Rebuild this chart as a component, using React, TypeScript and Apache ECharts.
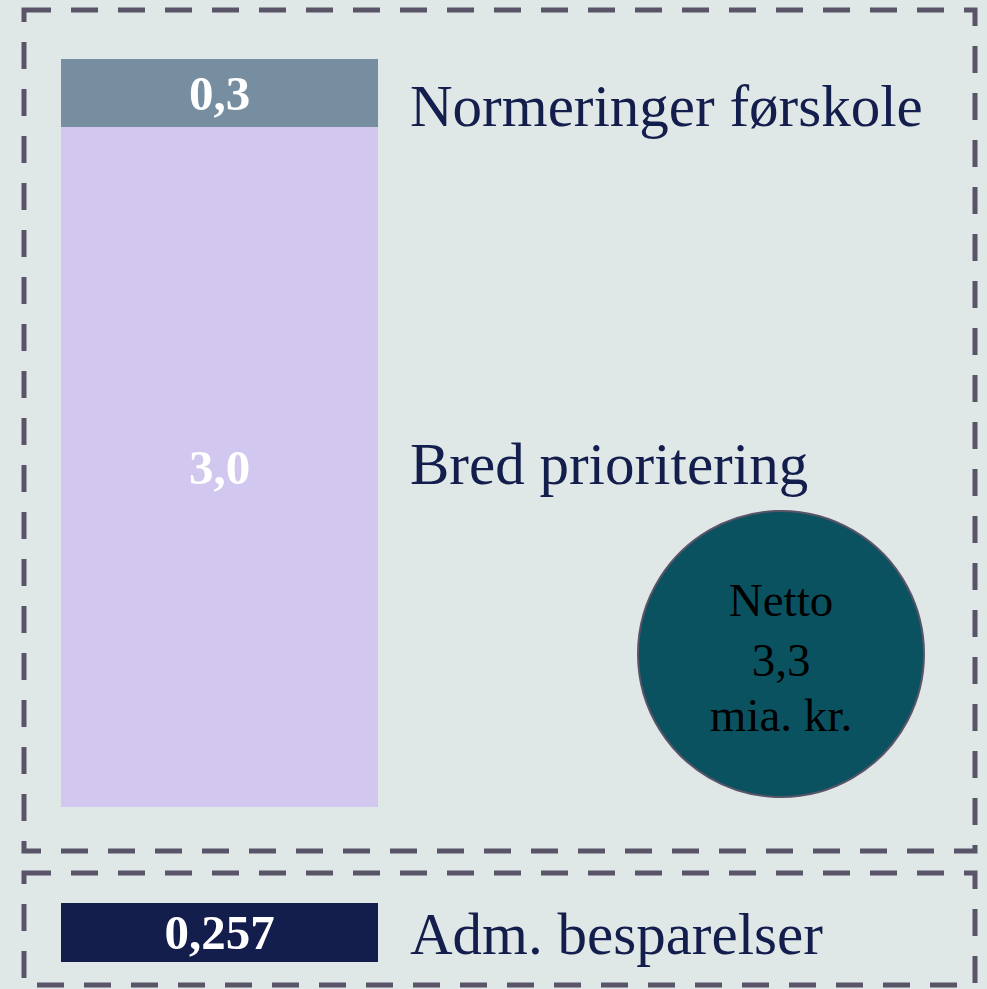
import React, { useEffect, useRef } from "react";
import * as echarts from "echarts";

const stackCategories = ["Total"];
const bredValues = [3.0];
const normValues = [0.3];
const admCategories = ["Adm"];
const admValues = [0.257];
const nettoValue = 3.3;
const seriesNames = ["Bred prioritering", "Normeringer førskole", "Adm. besparelser"];

const fmt = (v: number) => v.toLocaleString("da-DK", { minimumFractionDigits: 1 });
const fmt3 = (v: number) => v.toLocaleString("da-DK", { minimumFractionDigits: 3 });

const FONT = "'Liberation Serif', 'DejaVu Serif', serif";
const BG = "#e0e7e7";
const NAVY = "#141e4d";
const DASH = "#5a5468";

export default function App() {
  const ref = useRef<HTMLDivElement>(null);
  useEffect(() => {
    if (!ref.current) return;
    const chart = echarts.init(ref.current, null, { renderer: "svg" });
    const valueLabel = {
      show: true,
      position: "inside",
      color: "#ffffff",
      fontFamily: FONT,
      fontWeight: "bold",
      fontSize: 49,
    };
    chart.setOption({
      animation: false,
      backgroundColor: BG,
      grid: [
        { left: 61, top: 59, width: 317, height: 748 },
        { left: 61, top: 903, width: 317, height: 59 },
      ],
      xAxis: [
        { type: "category", gridIndex: 0, data: stackCategories, show: false },
        { type: "category", gridIndex: 1, data: admCategories, show: false },
      ],
      yAxis: [
        { type: "value", gridIndex: 0, min: 0, max: 3.3, show: false },
        { type: "value", gridIndex: 1, min: 0, max: 0.257, show: false },
      ],
      series: [
        {
          name: seriesNames[0],
          type: "bar",
          stack: "a",
          xAxisIndex: 0,
          yAxisIndex: 0,
          barWidth: "100%",
          data: bredValues,
          itemStyle: { color: "#d1c7ef" },
          label: { ...valueLabel, formatter: (p: any) => fmt(p.value) },
        },
        {
          name: seriesNames[1],
          type: "bar",
          stack: "a",
          xAxisIndex: 0,
          yAxisIndex: 0,
          barWidth: "100%",
          data: normValues,
          itemStyle: { color: "#778da0" },
          label: { ...valueLabel, formatter: (p: any) => fmt(p.value) },
        },
        {
          name: seriesNames[2],
          type: "bar",
          xAxisIndex: 1,
          yAxisIndex: 1,
          barWidth: "100%",
          data: admValues,
          itemStyle: { color: NAVY },
          label: { ...valueLabel, formatter: (p: any) => fmt3(p.value) },
        },
      ],
    });

    const labelX = 410;
    const pNorm = chart.convertToPixel({ gridIndex: 0 } as any, [0, bredValues[0] + normValues[0] / 2]) as number[];
    const pBred = chart.convertToPixel({ gridIndex: 0 } as any, [0, bredValues[0] / 2]) as number[];
    const pAdm = chart.convertToPixel({ gridIndex: 1 } as any, [0, admValues[0] / 2]) as number[];
    const nameStyle = (text: string, size: number) => ({
      text,
      fill: NAVY,
      font: `${size}px ${FONT}`,
      verticalAlign: "middle",
      align: "left",
    });
    const dashStyle = { fill: "none", stroke: DASH, lineWidth: 5, lineDash: [27, 20] };
    const circleText = (text: string, y: number) => ({
      type: "text",
      x: 781,
      y,
      style: { text, fill: "#000000", font: `47px ${FONT}`, align: "center", verticalAlign: "middle" },
    });
    chart.setOption({
      graphic: [
        { type: "rect", shape: { x: 24, y: 10, width: 951, height: 841 }, style: dashStyle, z: 1 },
        { type: "rect", shape: { x: 24, y: 873, width: 951, height: 112 }, style: dashStyle, z: 1 },
        { type: "text", x: labelX, y: pNorm[1] + 13, style: nameStyle(seriesNames[1], 59) },
        { type: "text", x: labelX, y: pBred[1] - 3, style: nameStyle(seriesNames[0], 59) },
        { type: "text", x: labelX, y: pAdm[1] + 1, style: nameStyle(seriesNames[2], 59) },
        {
          type: "circle",
          shape: { cx: 781, cy: 654, r: 143 },
          style: { fill: "#0b5261", stroke: DASH, lineWidth: 2 },
        },
        circleText("Netto", 600),
        circleText(fmt(nettoValue), 660),
        circleText("mia. kr.", 715),
      ],
    });
    return () => chart.dispose();
  }, []);
  return (
    <div
      ref={ref}
      style={{ position: "fixed", left: 0, top: 0, width: 987, height: 989, background: BG }}
    />
  );
}
